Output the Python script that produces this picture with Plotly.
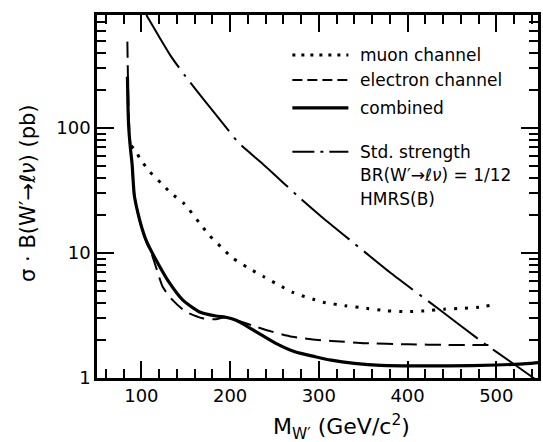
import plotly.graph_objects as go

# ---------------- data ----------------
mass_muon = [88.5, 94.4, 98.1, 109.3, 122.4, 133.6, 148.4, 165.2, 176.4, 189.5, 202.5,
             221, 238, 254.7, 271.5, 281, 293.8, 305, 329.3, 353.5, 375.8, 398.2, 418.8,
             441.2, 461.6, 480.3, 495.2]
xsec_muon = [72, 64.6, 57.2, 44.7, 36.1, 30.0, 24.7, 17.5, 13.9, 11.2, 9.16,
             7.55, 6.46, 5.55, 4.81, 4.55, 4.26, 4.03, 3.79, 3.61, 3.45, 3.39, 3.44,
             3.55, 3.61, 3.68, 3.84]

mass_electron = [84.2, 84.6, 85.0, 85.5, 86.2, 87.5, 89, 92, 96, 101, 106, 111, 116, 124,
                 135, 150, 169, 184, 191, 197, 206, 215, 225, 247, 270, 299, 314, 352, 400,
                 445, 500]
xsec_electron = [490, 330, 220, 150, 105, 75, 56, 29.5, 21, 15.3, 12.1, 10.1, 7.9, 5.37,
                 4.21, 3.39, 3.00, 2.95, 3.03, 3.06, 2.92, 2.78, 2.63, 2.35, 2.14, 2.01, 1.98,
                 1.90, 1.86, 1.84, 1.84]

mass_combined = [84.3, 84.8, 85.5, 86.5, 88, 89.5, 92, 96, 101, 106, 111, 118.5, 130, 146.5,
                 165, 184, 195, 206, 217, 232, 251, 273, 296, 314, 340, 370, 400, 445, 500,
                 538, 548]
xsec_combined = [257, 160, 110, 85, 65, 52, 29, 21, 15.5, 12.3, 10.4, 8.3, 6.0, 4.21,
                 3.39, 3.13, 3.06, 2.91, 2.65, 2.28, 1.90, 1.62, 1.48, 1.39, 1.31, 1.26, 1.25,
                 1.25, 1.27, 1.31, 1.33]

mass_std = [105.6, 120, 133.6, 150, 170.8, 197, 210, 236, 277, 303, 340, 381.4, 434, 486,
            516, 542, 548]
xsec_std = [800, 537, 372, 257, 167, 98, 75.5, 52.2, 28.2, 19.5, 11.9, 6.88, 3.61, 1.90,
            1.35, 1.0, 0.94]

x_ticks = [100, 200, 300, 400, 500]
y_ticks = [1, 10, 100]
y_tick_text = ["1", "10", "100"]
y_minor = [2, 3, 4, 5, 6, 7, 8, 9, 20, 30, 40, 50, 60, 70, 80, 90,
           200, 300, 400, 500, 600, 700, 800]

legend_labels = ["muon channel", "electron channel", "combined", "Std. strength"]
legend_extra = ["BR(W′→<i>ℓν</i>) = 1/12", "HMRS(B)"]

FONT = "DejaVu Sans"
INK = "black"

styles = [
    dict(width=3, dash="3px,8px"),
    dict(width=2, dash="16px,8px"),
    dict(width=3.2, dash="solid"),
    dict(width=2, dash="62px,8px,3px,8px"),
]

fig = go.Figure()
series = [(mass_muon, xsec_muon), (mass_electron, xsec_electron),
          (mass_combined, xsec_combined), (mass_std, xsec_std)]
for (xs, ys), st, name in zip(series, styles, legend_labels):
    fig.add_trace(go.Scatter(x=xs, y=ys, mode="lines", name=name, showlegend=False,
                             line=dict(color=INK, width=st["width"], dash=st["dash"],
                                       shape="spline", smoothing=0.6),
                             hoverinfo="skip"))

fig.update_layout(
    width=543, height=442,
    margin=dict(l=97, r=2, t=15, b=64),
    paper_bgcolor="white", plot_bgcolor="white",
    font=dict(family=FONT, color=INK),
)

fig.update_xaxes(
    range=[50, 547], tickmode="array", tickvals=x_ticks, ticks="inside", ticklen=17,
    tickwidth=2, tickcolor=INK, showline=True, linewidth=2.5, linecolor=INK,
    mirror="allticks", showgrid=False, zeroline=False,
    tickfont=dict(size=18, family=FONT, color=INK),
    minor=dict(ticks="inside", ticklen=9, tickwidth=2, tickcolor=INK, dtick=20, tick0=0,
               showgrid=False),
)
fig.update_yaxes(
    type="log", range=[0, 2.90309], tickmode="array", tickvals=y_ticks,
    ticktext=y_tick_text, ticks="inside", ticklen=17, tickwidth=2, tickcolor=INK,
    showline=True, linewidth=2.5, linecolor=INK, mirror="allticks", showgrid=False,
    zeroline=False, tickfont=dict(size=18, family=FONT, color=INK),
    minor=dict(ticks="inside", ticklen=9, tickwidth=2, tickcolor=INK, tickvals=y_minor,
               showgrid=False),
)

# axis titles
fig.add_annotation(text="M<sub>W′</sub> (GeV/c<sup>2</sup>)", xref="paper", yref="paper",
                   x=0.554, y=-0.135, xanchor="center", yanchor="middle", showarrow=False,
                   font=dict(size=22, family=FONT, color=INK))
fig.add_annotation(text="σ · B(W′→<i>ℓν</i>) (pb)", xref="paper", yref="paper",
                   x=-0.158, y=0.508, xanchor="center", yanchor="middle", showarrow=False,
                   textangle=-90, font=dict(size=21, family=FONT, color=INK))

# legend (drawn in paper coordinates)
row_y = [0.890, 0.821, 0.744, 0.623]
sample_dash = ["3px,6px", "10px,5px", "solid", "22px,6px,3px,6px"]
sample_w = [3, 2, 3.2, 2]
for lab, yy, dsh, w in zip(legend_labels, row_y, sample_dash, sample_w):
    fig.add_shape(type="line", xref="paper", yref="paper", x0=0.443, x1=0.570, y0=yy, y1=yy,
                  line=dict(color=INK, width=w, dash=dsh))
    fig.add_annotation(text=lab, xref="paper", yref="paper", x=0.592, y=yy,
                       xanchor="left", yanchor="middle", showarrow=False,
                       font=dict(size=17, family=FONT, color=INK))
for lab, yy in zip(legend_extra, [0.560, 0.492]):
    fig.add_annotation(text=lab, xref="paper", yref="paper", x=0.592, y=yy,
                       xanchor="left", yanchor="middle", showarrow=False,
                       font=dict(size=17, family=FONT, color=INK))

fig.write_html("out.html", post_script="document.body.style.margin='0';",
               config={"displayModeBar": False})
